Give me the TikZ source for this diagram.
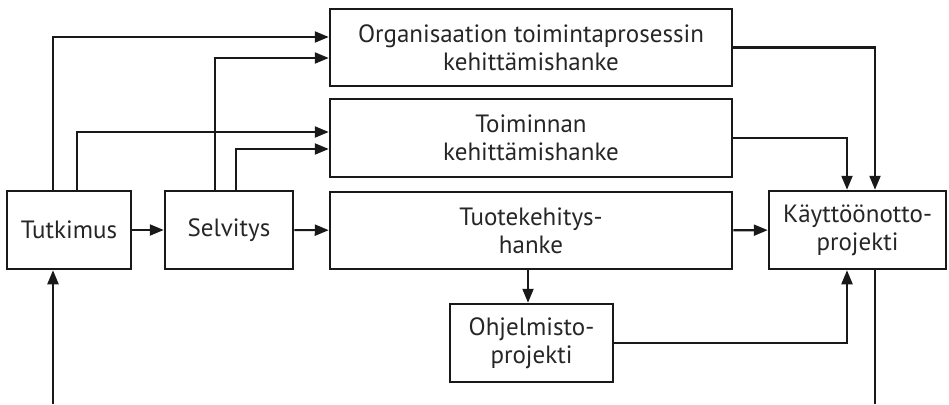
\documentclass[tikz,border=0pt]{standalone}
\usepackage{fontspec}
\setmainfont{PT Sans}
\usetikzlibrary{arrows.meta}
\begin{document}
\begin{tikzpicture}[x=1pt,y=-1pt,
  box/.style={draw=black!90, line width=2.5pt, rectangle, align=center, inner sep=0pt,
    font=\fontsize{25}{28}\selectfont, text=black!85},
  conn/.style={line width=2.2pt, draw=black!90},
  arr/.style={conn, -{Triangle[length=14pt,width=11pt]}}]
\useasboundingbox (0,0) rectangle (949,404);
% main boxes
\node[box, minimum width=124pt, minimum height=78pt] (tut) at (69,230) {Tutkimus};
\node[box, minimum width=128pt, minimum height=78pt] (sel) at (229,230) {Selvitys};
\node[box, minimum width=402pt, minimum height=77pt] (tuo) at (531,230.5) {Tuotekehitys-\\hanke};
\node[box, minimum width=402pt, minimum height=77pt] (org) at (531,47.5) {Organisaation toimintaprosessin\\kehittämishanke};
\node[box, minimum width=402pt, minimum height=78pt] (toi) at (531,138) {Toiminnan\\kehittämishanke};
\node[box, minimum width=177pt, minimum height=78pt] (kay) at (857.5,230) {Käyttöönotto-\\projekti};
\node[box, minimum width=163pt, minimum height=78pt] (ohj) at (531.5,343) {Ohjelmisto-\\projekti};
% free ends at the lower edge
\coordinate (in) at (53,404);
\coordinate (out) at (875,404);
% connectors
\draw[arr] (in) -- (in |- tut.south);
\draw[arr] (tut) -- (sel);
\draw[arr] (sel) -- (tuo);
\draw[arr] (tuo) -- (kay);
\draw[arr] ([xshift=-16pt]tut.north) |- ([yshift=10.5pt]org.west);
\draw[arr] ([xshift=8pt]tut.north) |- ([yshift=6pt]toi.west);
\draw[arr] ([xshift=-14pt]sel.north) |- ([yshift=-10.5pt]org.west);
\draw[arr] ([xshift=7pt]sel.north) |- ([yshift=-11pt]toi.west);
\draw[arr] (org.east) -| ([xshift=17.5pt]kay.north);
\draw[arr] (toi.east) -| ([xshift=-10.5pt]kay.north);
\draw[arr] ([xshift=-3pt]tuo.south) -- ([xshift=-3pt]tuo.south |- ohj.north);
\draw[arr] (ohj.east) -| ([xshift=-10.5pt]kay.south);
\draw[conn] ([xshift=17.5pt]kay.south) -- (out);
\end{tikzpicture}
\end{document}
